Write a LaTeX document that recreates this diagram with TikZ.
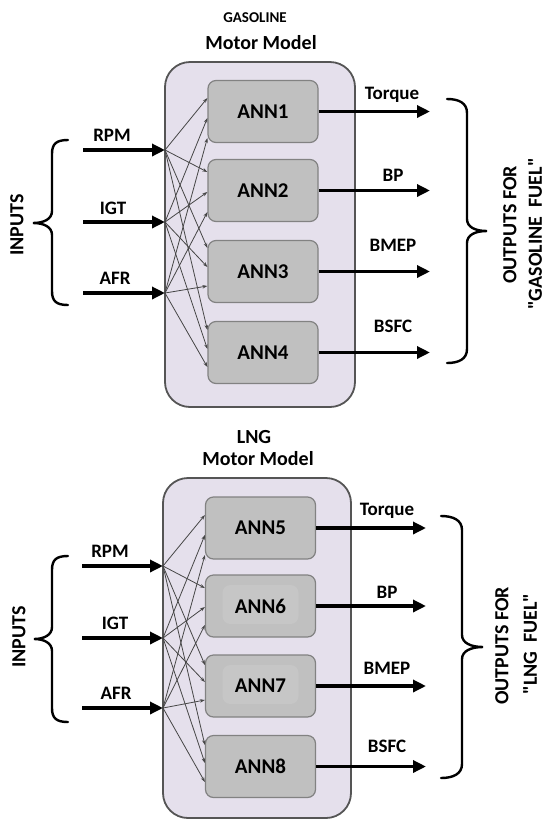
\documentclass[tikz,border=0pt]{standalone}
\usepackage{fontspec}
\setmainfont{Carlito}
\newfontfamily\carl{Carlito}
\usetikzlibrary{arrows.meta,calc}
\definecolor{outerfill}{RGB}{229,224,236}
\definecolor{outerline}{RGB}{85,85,85}
\definecolor{annfill}{RGB}{192,192,192}
\definecolor{innerfill}{RGB}{198,198,198}
\definecolor{annline}{RGB}{130,130,130}
\definecolor{wire}{RGB}{70,70,70}
\begin{document}
\begin{tikzpicture}[x=1pt,y=-1pt,
  outerbox/.style={draw=outerline,fill=outerfill,line width=1.8pt,rounded corners=25pt,inner sep=0pt},
  annbox/.style={draw=annline,fill=annfill,line width=1.2pt,rounded corners=8pt,minimum width=110pt,minimum height=62pt,inner sep=0pt,font=\carl\fontsize{21}{24}\selectfont\bfseries},
  innerrect/.style={path picture={\fill[innerfill] ($(path picture bounding box.center)+(-38,-21)$) rectangle ($(path picture bounding box.center)+(38,18)$);}},
  lbl/.style={font=\carl\fontsize{19}{22}\selectfont\bfseries,anchor=base,inner sep=0pt},
  ttl/.style={font=\carl\fontsize{20}{23}\selectfont\bfseries,inner sep=0pt},
  small/.style={font=\carl\fontsize{15}{18}\selectfont\bfseries,inner sep=0pt},
  fat/.style={line width=3.6pt,-{Triangle[length=13pt,width=12pt]}},
  wirearrow/.style={draw=wire,line width=0.8pt,-{Stealth[length=5pt,width=3.5pt]}},
  bracepath/.style={line width=2.4pt,line cap=round},
]
\fill[white] (0,0) rectangle (547,820);
\useasboundingbox (0,0) rectangle (547,820);

% ================= GASOLINE =================
\node[small] (gas) at (255,18) {GASOLINE};
\node[ttl] (mm1) at (261,43) {Motor Model};
\node[outerbox,minimum width=190pt,minimum height=345pt] (model1) at (260,234.5) {};

\node[annbox] (ANN1) at (263,111.5) {ANN1};
\node[annbox] (ANN2) at (263,190.5) {ANN2};
\node[annbox] (ANN3) at (263,271.5) {ANN3};
\node[annbox] (ANN4) at (263,352.5) {ANN4};

\coordinate (hR1) at (165,150);
\coordinate (hI1) at (165,222);
\coordinate (hA1) at (165,293);
\coordinate (sR1) at (83,150);
\coordinate (sI1) at (83,222);
\coordinate (sA1) at (83,293);

\foreach \n/\a/\b/\c in {ANN1/98/118/138, ANN2/172/192/212, ANN3/248/267/286, ANN4/330/349/367} {
  \draw[wirearrow] (hR1) -- (\n.west |- 0,\a);
  \draw[wirearrow] (hI1) -- (\n.west |- 0,\b);
  \draw[wirearrow] (hA1) -- (\n.west |- 0,\c);
}

\draw[fat] (sR1) -- (hR1);
\draw[fat] (sI1) -- (hI1);
\draw[fat] (sA1) -- (hA1);
\node[lbl] (rpm1) at (112,141.5) {RPM};
\node[lbl] (igt1) at (113,214.5) {IGT};
\node[lbl] (afr1) at (115,284.5) {AFR};

\coordinate (oT) at (430,0);
\draw[fat] (ANN1.east) -- (ANN1.east -| oT);
\draw[fat] (ANN2.east) -- (ANN2.east -| oT);
\draw[fat] (ANN3.east) -- (ANN3.east -| oT);
\draw[fat] (ANN4.east) -- (ANN4.east -| oT);
\node[lbl] (tq1) at (392,99) {Torque};
\node[lbl] (bp1) at (393,181) {BP};
\node[lbl] (bm1) at (393,251) {BMEP};
\node[lbl] (bs1) at (393,332) {BSFC};

\draw[bracepath] (68,140) .. controls (56,140) and (52,144) .. (52,154) -- (52,211)
  .. controls (52,219) and (44,223) .. (33,223) .. controls (44,223) and (52,227) .. (52,235)
  -- (52,291) .. controls (52,301) and (56,305) .. (68,305);
\node[ttl,rotate=90] (inp1) at (17,225) {INPUTS};

\draw[bracepath] (447,99) .. controls (459,99) and (467,103) .. (467,113) -- (467,219)
  .. controls (467,227) and (475,231) .. (487,231) .. controls (475,231) and (467,235) .. (467,243)
  -- (467,349) .. controls (467,359) and (459,363) .. (447,363);
\node[ttl,rotate=90] (out1) at (510,225) {OUTPUTS FOR};
\node[ttl,rotate=90] (fuel1) at (535,234) {"GASOLINE\ \ FUEL"};

% ================= LNG =================
\node[ttl] (lng) at (254,437) {LNG};
\node[ttl] (mm2) at (258,459) {Motor Model};
\node[outerbox,minimum width=188pt,minimum height=340pt] (model2) at (257,648) {};

\node[annbox] (ANN5) at (260.5,528) {ANN5};
\node[annbox,innerrect] (ANN6) at (260.5,606) {ANN6};
\node[annbox,innerrect] (ANN7) at (260.5,686) {ANN7};
\node[annbox] (ANN8) at (260.5,766.5) {ANN8};

\coordinate (hR2) at (163,566);
\coordinate (hI2) at (163,638);
\coordinate (hA2) at (163,708);
\coordinate (sR2) at (82,566);
\coordinate (sI2) at (82,638);
\coordinate (sA2) at (82,708);

\foreach \n/\a/\b/\c in {ANN5/515/535/555, ANN6/588/607/625, ANN7/665/682/700, ANN8/745/763/782} {
  \draw[wirearrow] (hR2) -- (\n.west |- 0,\a);
  \draw[wirearrow] (hI2) -- (\n.west |- 0,\b);
  \draw[wirearrow] (hA2) -- (\n.west |- 0,\c);
}

\draw[fat] (sR2) -- (hR2);
\draw[fat] (sI2) -- (hI2);
\draw[fat] (sA2) -- (hA2);
\node[lbl] (rpm2) at (110,557) {RPM};
\node[lbl] (igt2) at (115,629) {IGT};
\node[lbl] (afr2) at (116,699) {AFR};

\coordinate (oB) at (426,0);
\draw[fat] (ANN5.east) -- (ANN5.east -| oB);
\draw[fat] (ANN6.east) -- (ANN6.east -| oB);
\draw[fat] (ANN7.east) -- (ANN7.east -| oB);
\draw[fat] (ANN8.east) -- (ANN8.east -| oB);
\node[lbl] (tq2) at (387,515) {Torque};
\node[lbl] (bp2) at (387,598) {BP};
\node[lbl] (bm2) at (387,674) {BMEP};
\node[lbl] (bs2) at (387,752) {BSFC};

\draw[bracepath] (68,556) .. controls (56,556) and (52,560) .. (52,570) -- (52,627)
  .. controls (52,635) and (44,639) .. (34,639) .. controls (44,639) and (52,643) .. (52,651)
  -- (52,708) .. controls (52,718) and (56,722) .. (68,722);
\node[ttl,rotate=90] (inp2) at (19,637) {INPUTS};

\draw[bracepath] (441,516) .. controls (453,516) and (462,520) .. (462,530) -- (462,635)
  .. controls (462,643) and (471,647) .. (483,647) .. controls (471,647) and (462,651) .. (462,659)
  -- (462,764) .. controls (462,774) and (453,778) .. (441,778);
\node[ttl,rotate=90] (out2) at (502,646) {OUTPUTS FOR};
\node[ttl,rotate=90] (fuel2) at (530,644) {"LNG\ \ FUEL"};
\end{tikzpicture}
\end{document}
